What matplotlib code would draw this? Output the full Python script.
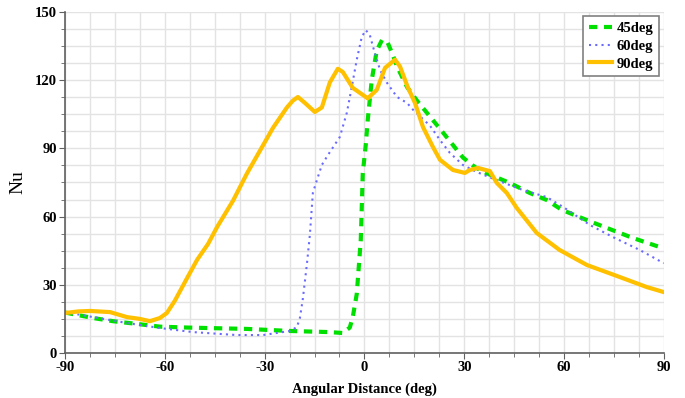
import matplotlib.pyplot as plt
import numpy as np
from matplotlib.ticker import MultipleLocator

# 90deg curve (angular distance, Nu)
x90 = [-90, -86, -82.5, -76.5, -71.4, -67.5, -64.5, -61.5, -59.4, -57, -53.3, -50.3,
       -47, -44.3, -39.5, -35.3, -31.4, -27.5, -23.3, -21.5, -20, -17.9, -14.9, -12.8,
       -10.4, -8, -6.5, -3.5, 1, 3.7, 6.2, 9.2, 10.7, 13, 15.2, 17.6, 20.6, 22.7,
       26.6, 30.2, 31.7, 34.1, 37.7, 39.8, 42.8, 45.8, 51.8, 58.7, 66.9, 76.8, 84.9, 90]
nu90 = [17.6, 18.3, 18.5, 18, 15.8, 15, 14, 15.4, 17.6, 23, 33, 41,
        48, 55.4, 67, 79, 89, 99, 108, 111, 112.6, 110, 106, 108,
        119, 125, 123.6, 116.6, 112, 115.7, 125.4, 129, 126, 117, 110, 99.4, 90.6, 85,
        80.5, 79.2, 80.5, 81.4, 80, 74.8, 70.4, 63.8, 52.8, 45.3, 38.7, 33.4, 29, 26.8]

# 45deg curve
x45 = [-90, -81.6, -75.6, -68.4, -61.5, -53.3, -47.3, -35.3, -22.4, -10.4, -6.5,
       -4.4, -3.5, -2.3, -1.7, -1.1, -0.8, -0.5, 0.4, 1, 2.2, 3.7, 5.3, 7, 8.3,
       9.8, 12.8, 15.8, 19.7, 23.6, 26.6, 29.6, 33.2, 36.8, 43.7, 49.7, 54.8,
       59.3, 66.8, 72.9, 80.7, 90]
nu45 = [17.8, 15.4, 14, 12.8, 11.6, 11.2, 11, 10.6, 9.7, 9.2, 8.8,
        11.2, 15.8, 26, 37.8, 49.7, 64, 79, 91.5, 102.5, 120, 133, 137.7, 136.4, 132,
        126, 117, 111, 104, 97, 91.5, 86, 81.8, 79, 74.8, 70.4, 67.3,
        63, 58.5, 55, 50.6, 46]

# 60deg curve
x60 = [-90, -81.6, -71.4, -61.5, -51.5, -38.3, -30.5, -22.4, -20.3, -19.4, -18.5,
       -17.3, -16.4, -15.5, -14.3, -12.8, -11, -7.4, -5.3, -3.8, -2.3, -0.8, 0.4,
       1.6, 3.1, 4.7, 6.8, 9.8, 12.8, 14.6, 19.7, 22.7, 25.7, 29.6, 33.8, 39.8,
       47.6, 54.8, 60.2, 67.8, 74.7, 82.8, 90]
nu60 = [18, 15.8, 13.2, 11, 9.2, 7.9, 7.9, 9.7, 11.4, 15.4, 24,
        39, 52, 70.4, 76, 82.7, 87, 95, 105.6, 117, 129, 139, 142,
        140, 132, 124.5, 118.8, 112.6, 110, 107, 100, 93.7, 88, 82.7, 79.6, 76,
        71.7, 68.6, 63.8, 56.3, 51, 45.3, 39.5]

plt.rcParams['font.family'] = ['Liberation Serif', 'DejaVu Serif']
plt.rcParams['axes.unicode_minus'] = False

fig = plt.figure(figsize=(6.85, 3.98), dpi=100)
ax = fig.add_axes([0.095, 0.113, 0.874, 0.857])

ax.plot(x45, nu45, color='#00e000', lw=3, linestyle=(0, (2, 1.6)), label='45deg')
ax.plot(x60, nu60, color='#6a6aff', lw=1.5, linestyle=(0, (1, 2)), label='60deg')
ax.plot(x90, nu90, color='#ffc000', lw=3, label='90deg')

ax.set_xlim(-90, 90)
ax.set_ylim(0, 150)
ax.xaxis.set_major_locator(MultipleLocator(30))
ax.xaxis.set_minor_locator(MultipleLocator(7.5))
ax.yaxis.set_major_locator(MultipleLocator(30))
ax.yaxis.set_minor_locator(MultipleLocator(7.5))
ax.grid(True, which='both', color='#e3e3e3', lw=1)
ax.set_axisbelow(True)

for s in ['top', 'right']:
    ax.spines[s].set_visible(False)
for s in ['left', 'bottom']:
    ax.spines[s].set_color('#606060')
    ax.spines[s].set_linewidth(1.2)

ax.tick_params(which='major', length=4, color='#606060', labelsize=10.5, pad=2)
ax.tick_params(which='minor', length=3, color='#606060')
for lbl in ax.get_xticklabels() + ax.get_yticklabels():
    lbl.set_fontweight('bold')

ax.set_xlabel('Angular Distance (deg)', fontsize=10.5, fontweight='bold', labelpad=6)
ax.set_ylabel('Nu', fontsize=14, labelpad=6)

leg = ax.legend(loc='upper right', prop={'weight': 'bold', 'size': 10.5},
                fancybox=False, framealpha=1, edgecolor='#808080',
                handlelength=1.6, handletextpad=0.3, borderpad=0.4,
                labelspacing=0.3, borderaxespad=0.3)
leg.get_frame().set_linewidth(1.2)

plt.savefig('out.png', dpi=100)
plt.close()
